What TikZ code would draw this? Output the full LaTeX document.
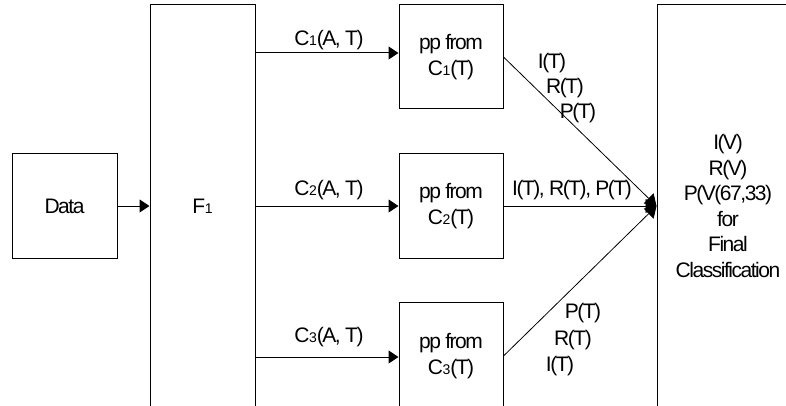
\documentclass[tikz,border=0pt]{standalone}
\usepackage{fontspec}
\setmainfont[LetterSpace=-7]{Liberation Sans}
\usetikzlibrary{arrows.meta}
\newcommand\smallsub[1]{{\kern-0.5pt\fontsize{14}{14}\selectfont #1}}
\begin{document}
\begin{tikzpicture}[x=1pt,y=-1pt,
  box/.style={draw,line width=1pt,rectangle,inner sep=0pt,align=center,font=\fontsize{21}{25.5}\selectfont},
  lbl/.style={inner sep=0pt,font=\fontsize{21}{25.5}\selectfont},
  arr/.style={line width=1pt,-{Triangle[length=10pt,width=13pt]}},
  conv/.style={line width=0.8pt,-{Triangle[length=11pt,width=14pt]}}]
\useasboundingbox (0,0) rectangle (786,406);
\fill[white] (0,0) rectangle (786,406);
\clip (0,0) rectangle (786,406);
\node[box,minimum width=105pt,minimum height=104pt] (data) at (64.5,206) {Data};
\node[box,minimum width=105pt,minimum height=402pt] (f1) at (202.5,206) {F\smallsub{1}};
\node[box,minimum width=104pt,minimum height=104pt] (pp1) at (451,57) {pp from\\C\smallsub{1}(T)};
\node[box,minimum width=104pt,minimum height=104pt] (pp2) at (451,206) {pp from\\C\smallsub{2}(T)};
\node[box,minimum width=104pt,minimum height=108pt] (pp3) at (451,356) {pp from\\C\smallsub{3}(T)};
\node[box,minimum width=142pt,minimum height=402pt] (fin) at (728,206) {I(V)\\R(V)\\P(V(67,33)\\for\\Final\\Classification};
\draw[arr] (data.east) -- (data.east -| f1.west);
\draw[arr] (f1.east |- 0,53) -- (pp1.west |- 0,53);
\draw[arr] (f1.east |- pp2.west) -- (pp2.west);
\draw[arr] (f1.east |- 0,357) -- (pp3.west |- 0,357);
\draw[conv] (pp1.east) -- (fin.west);
\draw[conv] (pp2.east) -- (fin.west);
\draw[conv] (pp3.east) -- (fin.west);
\node[lbl] (l1) at (329,40) {C\smallsub{1}(A, T)};
\node[lbl] (l2) at (329,190) {C\smallsub{2}(A, T)};
\node[lbl] (l3) at (329,337) {C\smallsub{3}(A, T)};
\node[lbl] (a1) at (552,63) {I(T)};
\node[lbl] (a2) at (565,88) {R(T)};
\node[lbl] (a3) at (578,113) {P(T)};
\node[lbl] (b1) at (572,190) {I(T), R(T), P(T)};
\node[lbl] (c1) at (583,313) {P(T)};
\node[lbl] (c2) at (573,340) {R(T)};
\node[lbl] (c3) at (560,366) {I(T)};
\end{tikzpicture}
\end{document}
